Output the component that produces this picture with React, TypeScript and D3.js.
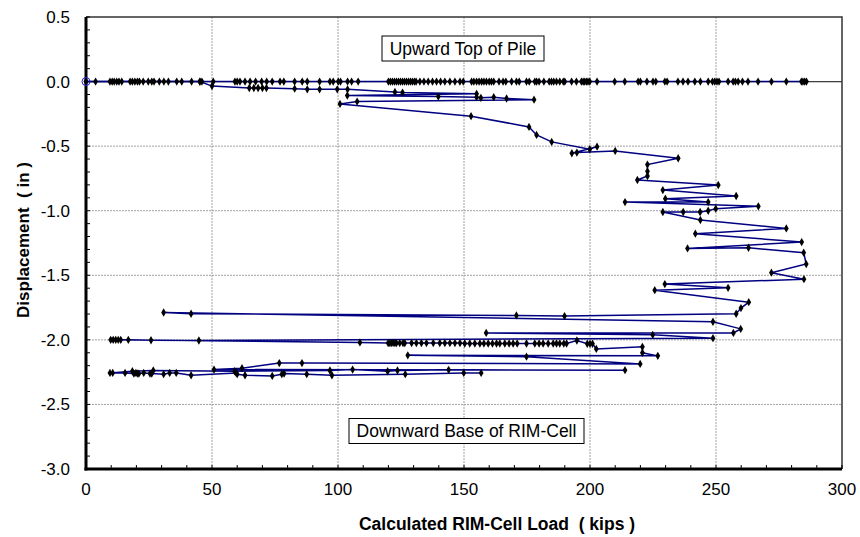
import React, { useEffect, useRef } from "react";
import * as d3 from "d3";

// Upward top of pile: displacement stays at 0 for every load step (kips)
const upwardLoad = [
  0, 3.8, 9.5, 10.4, 11.2, 12.2, 13.1, 14.2, 17.5, 18.4, 19.4, 20.4, 21.2, 22.7,
  24.7, 26.1, 27, 29.1, 30.9, 32.7, 36, 38, 41.9, 45.2, 46, 50.5, 59.1, 60, 61.1,
  63.1, 65.1, 67.3, 69.7, 71.7, 73.9, 77, 78.5, 82.8, 85.8, 87.8, 92.7, 96.8,
  98.1, 100.1, 101, 103.8, 105.4, 108, 120, 120.8, 121.6, 122.4, 123.2, 124,
  124.8, 125.6, 126.4, 127.2, 128, 128.8, 129.6, 130.4, 131, 132.5, 134.1, 135.8,
  137.5, 139.1, 140.7, 142.4, 144.4, 146.4, 148.4, 149.7, 153, 153.9, 155, 156,
  157, 157.9, 158.9, 160, 160.9, 161.8, 163.9, 165.5, 166.6, 168.9, 170.8, 171.9,
  174.8, 175.9, 178.1, 178.8, 179.8, 181.7, 183.8, 184.7, 185.6, 186.7, 188,
  189.4, 190, 192.7, 194.6, 196.6, 197.3, 197.9, 198.6, 199.2, 199.9, 202.8,
  209.8, 213.8, 219.1, 220, 222.6, 225, 226.1, 229.7, 230.6, 234.9, 236.9, 238.9,
  241.6, 243.8, 246.9, 248.6, 249.5, 250.4, 251.2, 254.8, 256.8, 257.7, 258.8,
  260.5, 262.7, 266.7, 272, 277.9, 283.9, 284.5, 285.2, 285.9,
];
const upwardDisp = 0;

// Downward base of RIM-cell: [load (kips), displacement (in)]
const downwardPoints: [number, number][] = [
  [0, 0], [45.2, 0], [50, -0.035], [64.8, -0.05], [66.6, -0.05], [68.3, -0.05],
  [70, -0.05], [71.6, -0.05], [82.8, -0.055], [87.8, -0.06], [92.7, -0.06],
  [99.7, -0.06], [103.8, -0.06], [122.6, -0.08], [125.6, -0.085], [155, -0.095],
  [103.7, -0.108], [139.8, -0.116], [155, -0.121], [156.7, -0.126],
  [161.8, -0.121], [166.9, -0.131], [177.8, -0.14], [107.6, -0.155],
  [100.8, -0.173], [152.8, -0.268], [175.8, -0.351], [178.8, -0.413],
  [184.8, -0.467], [199.9, -0.524], [202.8, -0.504], [192.8, -0.555],
  [194.8, -0.55], [210, -0.537], [235, -0.594], [222.8, -0.643],
  [222.8, -0.695], [222.8, -0.731], [218.8, -0.762], [250.9, -0.801],
  [228.9, -0.84], [258, -0.886], [229.9, -0.907], [246.9, -0.933],
  [213.9, -0.933], [266.8, -0.966], [249.9, -0.984], [246.9, -1.0],
  [243.7, -1.01], [237, -1.01], [228.9, -1.01], [243.8, -1.072],
  [277.9, -1.137], [241.8, -1.178], [284, -1.243], [238.7, -1.292],
  [262.9, -1.287], [284.8, -1.325], [285.8, -1.413], [272, -1.48],
  [284.9, -1.53], [229.7, -1.568], [254.8, -1.597], [225.7, -1.615],
  [263, -1.708], [259.9, -1.754], [258, -1.798], [189.9, -1.816],
  [170.8, -1.811], [41.7, -1.798], [30.8, -1.788], [248.8, -1.86],
  [259.8, -1.915], [256.9, -1.946], [158.8, -1.946], [224.9, -1.961],
  [248.8, -1.987], [44.8, -2.005], [25.8, -2.003], [16.8, -2.0], [13.8, -2.0],
  [12.8, -2.0], [11.8, -2.0], [10.8, -2.0], [9.8, -2.0], [108.7, -2.02],
  [119.9, -2.025], [120.6, -2.025], [121.3, -2.025], [121.9, -2.023],
  [122.6, -2.025], [123.2, -2.025], [124.5, -2.025], [125.8, -2.025],
  [126.5, -2.025], [129.2, -2.025], [131.1, -2.025], [133.1, -2.025],
  [135.1, -2.025], [137.8, -2.025], [140.4, -2.025], [142.4, -2.025],
  [144.4, -2.025], [146.4, -2.025], [148.4, -2.025], [150.3, -2.028],
  [152.3, -2.028], [154.3, -2.028], [156.3, -2.028], [157.9, -2.028],
  [159.6, -2.028], [161.3, -2.028], [162.9, -2.028], [164.2, -2.028],
  [166.2, -2.028], [167.9, -2.028], [169.5, -2.028], [171.1, -2.028],
  [174.8, -2.028], [178.1, -2.028], [179.8, -2.028], [181.4, -2.028],
  [183.4, -2.028], [185.4, -2.028], [186.7, -2.028], [188, -2.028],
  [189.6, -2.028], [190.7, -2.028], [194.8, -2.005], [198.9, -2.03],
  [200, -2.03], [201, -2.03], [202.5, -2.07], [220.8, -2.054], [220.8, -2.1],
  [226.9, -2.124], [127.7, -2.12], [174.8, -2.13], [219.9, -2.186],
  [85.7, -2.18], [76.7, -2.18], [61.9, -2.219], [50.8, -2.23],
  [213.9, -2.235], [143.9, -2.232], [123.6, -2.237], [119.7, -2.243],
  [105.8, -2.23], [96.8, -2.237], [59, -2.243], [26.7, -2.237],
  [18.4, -2.243], [9.5, -2.256], [10.6, -2.256], [15.5, -2.256], [19, -2.261],
  [19.8, -2.256], [20.4, -2.261], [21, -2.261], [22.9, -2.256], [25.4, -2.261],
  [26.1, -2.261], [30.8, -2.266], [33.2, -2.256], [35.8, -2.256],
  [41.7, -2.274], [59.6, -2.256], [60, -2.266], [63.1, -2.274],
  [73.9, -2.279], [77.7, -2.266], [78.6, -2.261], [87.6, -2.266],
  [97.6, -2.274], [126.7, -2.266], [149.9, -2.256], [156.8, -2.256],
];

const startPoint: [number, number] = [0, 0];

const xTicks = [0, 50, 100, 150, 200, 250, 300];
const yTicks = [0.5, 0.0, -0.5, -1.0, -1.5, -2.0, -2.5, -3.0];

const App = () => {
  const svgRef = useRef<SVGSVGElement>(null);

  useEffect(() => {
    const width = 860;
    const height = 537;
    const margin = { top: 17, right: 18, bottom: 68, left: 86 };
    const w = width - margin.left - margin.right;
    const h = height - margin.top - margin.bottom;
    const font = "Arial, 'Liberation Sans', sans-serif";

    const root = d3.select(svgRef.current);
    root.selectAll("*").remove();
    root.attr("width", width).attr("height", height);

    const svg = root
      .append("g")
      .attr("transform", `translate(${margin.left},${margin.top})`);

    const x = d3.scaleLinear().domain([0, 300]).range([0, w]);
    const y = d3.scaleLinear().domain([-3, 0.5]).range([h, 0]);

    // grid lines
    svg.append("g")
      .selectAll("line")
      .data(xTicks.slice(1, -1))
      .join("line")
      .attr("x1", (d) => x(d))
      .attr("x2", (d) => x(d))
      .attr("y1", 0)
      .attr("y2", h)
      .attr("stroke", "#a0a0a0")
      .attr("stroke-dasharray", "2,1");
    svg.append("g")
      .selectAll("line")
      .data(yTicks.slice(1, -1))
      .join("line")
      .attr("x1", 0)
      .attr("x2", w)
      .attr("y1", (d) => y(d))
      .attr("y2", (d) => y(d))
      .attr("stroke", "#a0a0a0")
      .attr("stroke-dasharray", "2,1");

    // zero line
    svg.append("line")
      .attr("x1", 0)
      .attr("x2", w)
      .attr("y1", y(0))
      .attr("y2", y(0))
      .attr("stroke", "#404040")
      .attr("stroke-width", 1.2);

    // frame top/right
    svg.append("path")
      .attr("d", `M0,0H${w}V${h}`)
      .attr("fill", "none")
      .attr("stroke", "#333")
      .attr("stroke-width", 1.5);

    // minor ticks (inside)
    const xMinor = d3.range(0, 301, 10);
    svg.append("g")
      .selectAll("line")
      .data(xMinor)
      .join("line")
      .attr("x1", (d) => x(d))
      .attr("x2", (d) => x(d))
      .attr("y1", h)
      .attr("y2", h - 4)
      .attr("stroke", "#000")
      .attr("stroke-width", 1);
    const yMinor = d3.range(-30, 6, 1).map((d) => d / 10);
    svg.append("g")
      .selectAll("line")
      .data(yMinor)
      .join("line")
      .attr("x1", 0)
      .attr("x2", 4)
      .attr("y1", (d) => y(d))
      .attr("y2", (d) => y(d))
      .attr("stroke", "#000")
      .attr("stroke-width", 1);

    // axis lines
    svg.append("line")
      .attr("x1", 0).attr("x2", 0).attr("y1", 0).attr("y2", h + 1.5)
      .attr("stroke", "#000").attr("stroke-width", 3);
    svg.append("line")
      .attr("x1", -1.5).attr("x2", w).attr("y1", h).attr("y2", h)
      .attr("stroke", "#000").attr("stroke-width", 3);

    // tick labels
    svg.append("g")
      .selectAll("text")
      .data(xTicks)
      .join("text")
      .attr("x", (d) => x(d))
      .attr("y", h + 26)
      .attr("text-anchor", "middle")
      .attr("font-family", font)
      .attr("font-size", 17)
      .text((d) => d);
    svg.append("g")
      .selectAll("text")
      .data(yTicks)
      .join("text")
      .attr("x", -16)
      .attr("y", (d) => y(d) + 6)
      .attr("text-anchor", "end")
      .attr("font-family", font)
      .attr("font-size", 17)
      .text((d) => d.toFixed(1));

    // axis titles
    svg.append("text")
      .attr("x", 497 - margin.left)
      .attr("y", 530 - margin.top)
      .attr("text-anchor", "middle")
      .attr("font-family", font)
      .attr("font-size", 17.5)
      .attr("font-weight", "bold")
      .style("white-space", "pre")
      .text("Calculated RIM-Cell Load  ( kips )");
    svg.append("text")
      .attr("transform", `translate(${29 - margin.left},${240 - margin.top}) rotate(-90)`)
      .attr("text-anchor", "middle")
      .attr("font-family", font)
      .attr("font-size", 17)
      .attr("font-weight", "bold")
      .style("white-space", "pre")
      .text("Displacement  ( in )");

    const line = d3
      .line<[number, number]>()
      .x((d) => x(d[0]))
      .y((d) => y(d[1]));

    const upwardPoints: [number, number][] = upwardLoad.map((l) => [l, upwardDisp]);

    // series lines
    svg.append("path")
      .datum(upwardPoints)
      .attr("d", line)
      .attr("fill", "none")
      .attr("stroke", "#000080")
      .attr("stroke-width", 1.5);
    svg.append("path")
      .datum(downwardPoints)
      .attr("d", line)
      .attr("fill", "none")
      .attr("stroke", "#000080")
      .attr("stroke-width", 1.5);

    // markers
    const diamond = d3.symbol().type(d3.symbolDiamond).size(20);
    svg.append("g")
      .selectAll("path")
      .data([...upwardPoints, ...downwardPoints])
      .join("path")
      .attr("d", diamond)
      .attr("transform", (d) => `translate(${x(d[0])},${y(d[1])})`)
      .attr("fill", "#000");

    // start point circle
    svg.append("circle")
      .attr("cx", x(startPoint[0]))
      .attr("cy", y(startPoint[1]))
      .attr("r", 4)
      .attr("fill", "none")
      .attr("stroke", "#2020c0")
      .attr("stroke-width", 1);

    // text boxes
    const boxes = [
      { label: "Upward Top of Pile", cx: 463 - margin.left, cy: 48.5 - margin.top, bw: 162 },
      { label: "Downward Base of RIM-Cell", cx: 466.5 - margin.left, cy: 431 - margin.top, bw: 235 },
    ];
    boxes.forEach((b) => {
      svg.append("rect")
        .attr("x", b.cx - b.bw / 2)
        .attr("y", b.cy - 12.5)
        .attr("width", b.bw)
        .attr("height", 25)
        .attr("fill", "#fff")
        .attr("stroke", "#000")
        .attr("stroke-width", 1);
      svg.append("text")
        .attr("x", b.cx)
        .attr("y", b.cy + 6)
        .attr("text-anchor", "middle")
        .attr("font-family", font)
        .attr("font-size", 17.5)
        .text(b.label);
    });
  }, []);

  return (
    <svg
      ref={svgRef}
      style={{ position: "absolute", left: 0, top: 0, background: "#fff" }}
    ></svg>
  );
};

export default App;
